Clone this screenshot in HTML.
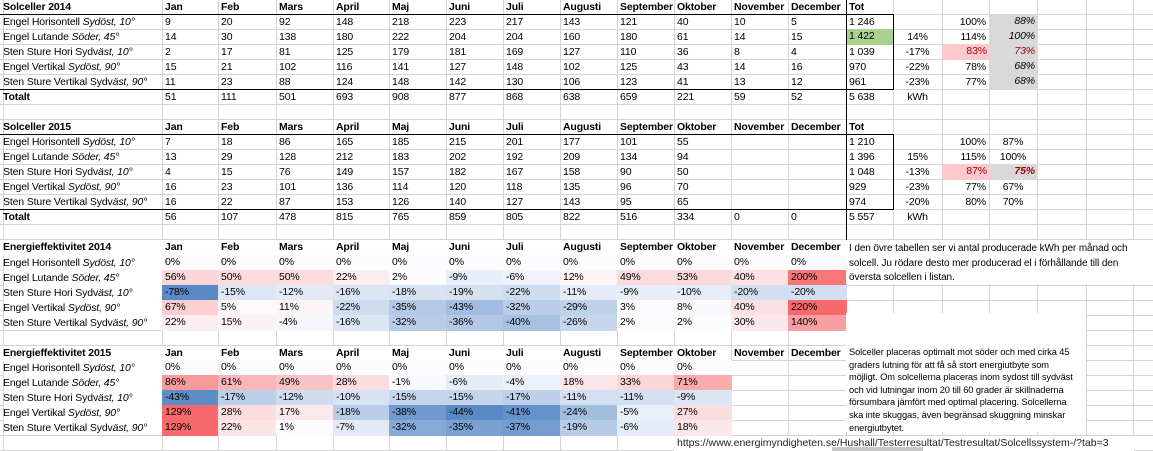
<!DOCTYPE html>
<html><head><meta charset="utf-8">
<style>
html,body{margin:0;padding:0;background:#fff;}
#sheet{position:relative;width:1153px;height:451px;overflow:hidden;background:#fff;font-family:"Liberation Sans",sans-serif;font-size:10.5px;letter-spacing:-0.15px;color:#000;}
.c{position:absolute;box-sizing:border-box;white-space:nowrap;overflow:visible;line-height:15px;padding:0 3px;}
.gl{position:absolute;background:#d4d4d4;}
.bl{position:absolute;background:#000;}
.r{text-align:right;}
.m{text-align:center;}
.b{font-weight:bold;}
.box{position:absolute;background:#fff;box-sizing:border-box;}
</style></head>
<body>
<div id="sheet"></div>
<script>
// ---- data ----
const months = ["Jan","Feb","Mars","April","Maj","Juni","Juli","Augusti","September","Oktober","November","December"];
const panels = [
 ['Engel Horisontell ','Sydöst, 10°',''],
 ['Engel Lutande ','Söder, 45°',''],
 ['Sten Sture Hori Sydv','äst,  10°',''],
 ['Engel Vertikal ','Sydöst, 90°',''],
 ['Sten Sture Vertikal Sydv','äst,  90°','']
];
const prod2014 = [
 [9,20,92,148,218,223,217,143,121,40,10,5],
 [14,30,138,180,222,204,204,160,180,61,14,15],
 [2,17,81,125,179,181,169,127,110,36,8,4],
 [15,21,102,116,141,127,148,102,125,43,14,16],
 [11,23,88,124,148,142,130,106,123,41,13,12]
];
const tot2014 = ["1 246","1 422","1 039","970","961"];
const diff2014 = ["","14%","-17%","-22%","-23%"];
const rel2014 = ["100%","114%","83%","78%","77%"];
const relB2014 = ["88%","100%","73%","68%","68%"];
const sum2014 = [51,111,501,693,908,877,868,638,659,221,59,52];
const sumTot2014 = "5 638";
const prod2015 = [
 [7,18,86,165,185,215,201,177,101,55,null,null],
 [13,29,128,212,183,202,192,209,134,94,null,null],
 [4,15,76,149,157,182,167,158,90,50,null,null],
 [16,23,101,136,114,120,118,135,96,70,null,null],
 [16,22,87,153,126,140,127,143,95,65,null,null]
];
const tot2015 = ["1 210","1 396","1 048","929","974"];
const diff2015 = ["","15%","-13%","-23%","-20%"];
const rel2015 = ["100%","115%","87%","77%","80%"];
const relB2015 = ["87%","100%","75%","67%","70%"];
const sum2015 = [56,107,478,815,765,859,805,822,516,334,0,0];
const sumTot2015 = "5 557";
const eff2014 = [
 [0,0,0,0,0,0,0,0,0,0,0,0],
 [56,50,50,22,2,-9,-6,12,49,53,40,200],
 [-78,-15,-12,-16,-18,-19,-22,-11,-9,-10,-20,-20],
 [67,5,11,-22,-35,-43,-32,-29,3,8,40,220],
 [22,15,-4,-16,-32,-36,-40,-26,2,2,30,140]
];
const eff2015 = [
 [0,0,0,0,0,0,0,0,0,0,null,null],
 [86,61,49,28,-1,-6,-4,18,33,71,null,null],
 [-43,-17,-12,-10,-15,-15,-17,-11,-11,-9,null,null],
 [129,28,17,-18,-38,-44,-41,-24,-5,27,null,null],
 [129,22,1,-7,-32,-35,-37,-19,-6,18,null,null]
];

// ---- layout ----
const colX = [0,162,218,276,333,389,446,503,560,617,674,731,788,846,893,942,989,1037,1086,1133,1153];
const RH = 15.03;
const Y = r => Math.round(r*RH);
const sheet = document.getElementById('sheet');

for (let i=1;i<colX.length-1;i++){
  const g=document.createElement('div');g.className='gl';
  
  
  g.style.left=colX[i]+'px';g.style.top='0px';g.style.width='1px';g.style.height='451px';sheet.appendChild(g);
}
{const g=document.createElement('div');g.className='gl';
 
 
 g.style.left='3px';g.style.top='0px';g.style.width='1px';g.style.height='451px';sheet.appendChild(g);}
for (let r=1;r<31;r++){
  const g=document.createElement('div');g.className='gl';
  
  
  g.style.left='0px';g.style.top=(Y(r)-1)+'px';g.style.width='1153px';g.style.height='1px';sheet.appendChild(g);
}

function cell(r,c0,c1,html,cls,bg,style,name){
  const d=document.createElement('div');
  d.className='c '+(cls||'');
  
  
  d.style.left=colX[c0]+'px';d.style.width=(colX[c1]-colX[c0]+(bg?1:0))+'px';
  d.style.top=(Y(r)-(bg?1:0))+'px';d.style.height=(Y(r+1)-Y(r)+(bg?1:0))+'px';
  if(bg)d.style.background=bg;
  if(style)d.style.cssText+=style;
  d.innerHTML=html;
  sheet.appendChild(d);return d;
}
function hline(x0,x1,y){const b=document.createElement('div');b.className='bl';
 
 
 b.style.left=x0+'px';b.style.width=(x1-x0)+'px';b.style.top=y+'px';b.style.height='1px';sheet.appendChild(b);}
function vline(x,y0,y1){const b=document.createElement('div');b.className='bl';
 
 
 b.style.left=x+'px';b.style.top=y0+'px';b.style.height=(y1-y0)+'px';b.style.width='1px';sheet.appendChild(b);}
function label(p){return p[0]+'<i>'+p[1]+'</i>';}

function prodTable(r0,title,prod,tot,diff,rel,relB,sum,sumTot,boldB){
  cell(r0,0,1,title,'b',null,null,'table-title');
  months.forEach((m,i)=>cell(r0,i+1,i+2,m,'b',null,null,'month-header'));
  cell(r0,13,14,'Tot','b',null,null,'total-header');
  prod.forEach((row,ri)=>{
    const r=r0+1+ri;
    cell(r,0,1,label(panels[ri]),'',null,null,'panel-label');
    row.forEach((v,i)=>{ if(v!==null) cell(r,i+1,i+2,String(v),'',null,null,'kwh-value'); });
    cell(r,13,14,tot[ri],'',(ri===1&&!boldB)?'#a9d08e':null,null,'total-value');
    cell(r,14,15,diff[ri],'m',null,null,'diff-value');
    if(ri===2) cell(r,15,16,rel[ri],'r','#ffc7ce','color:#9c0006;','relative-value');
    else cell(r,15,16,rel[ri],'r',null,null,'relative-value');
    const gray = !boldB || ri===2;
    let st = 'font-style:'+((!boldB||ri===2)?'italic':'normal')+';';
    if(ri===2) st+='color:#9c0006;'+(boldB?'font-weight:bold;':'');
    cell(r,16,17,relB[ri],boldB&&ri!==2?'m':'r',gray?'#d9d9d9':null,st,'relative-best-value');
  });
  const rs=r0+6;
  cell(rs,0,1,'Totalt','b',null,null,'sum-label');
  sum.forEach((v,i)=>cell(rs,i+1,i+2,String(v),'',null,null,'sum-value'));
  cell(rs,13,14,sumTot,'',null,null,'sum-total');
  cell(rs,14,15,'kWh','m',null,null,'unit-label');
  hline(0,893,Y(r0+1)-1);
  hline(0,893,Y(rs)-1);
  vline(846,Y(r0),Y(rs+2));
  vline(893,Y(r0+1)-1,Y(rs));
}
prodTable(0,'Solceller 2014',prod2014,tot2014,diff2014,rel2014,relB2014,sum2014,sumTot2014,false);
prodTable(8,'Solceller 2015',prod2015,tot2015,diff2015,rel2015,relB2015,sum2015,sumTot2015,true);

const RED=[248,105,107],WHITE=[252,252,255],BLUE=[90,138,198];
function mix(a,b,t){return 'rgb('+a.map((v,i)=>Math.round(v+(b[i]-v)*t)).join(',')+')';}
function effTable(r0,title,data){
  let mx=-1e9,mn=1e9;
  data.forEach(row=>row.forEach(v=>{if(v!==null){mx=Math.max(mx,v);mn=Math.min(mn,v);}}));
  const lastCol = data[0].filter(v=>v!==null).length;
  const w=document.createElement('div');w.className='box';
  
  
  w.style.left='4px';w.style.top=Y(r0)+'px';w.style.width=(colX[lastCol+1]-4)+'px';w.style.height=(Y(r0+6)-Y(r0)-1)+'px';
  sheet.appendChild(w);
  cell(r0,0,1,title,'b',null,'background:#fff;','table-title');
  months.forEach((m,i)=>cell(r0,i+1,i+2,m,'b',null,null,'month-header'));
  data.forEach((row,ri)=>{
    const r=r0+1+ri;
    cell(r,0,1,label(panels[ri]),'',null,null,'panel-label');
    row.forEach((v,i)=>{
      if(v===null) return;
      const bg = v>=0 ? mix(WHITE,RED,mx>0?v/mx:0) : mix(WHITE,BLUE,v/mn);
      cell(r,i+1,i+2,v+'%','',bg,null,'efficiency-cell');
    });
  });
}
effTable(16,'Energieffektivitet 2014',eff2014);
effTable(23,'Energieffektivitet 2015',eff2015);

const tb1=document.createElement('div');tb1.className='box';


tb1.style.cssText+='left:846px;top:240px;width:307px;height:44px;padding:2px 0 0 3px;font-size:10px;letter-spacing:-0.1px;line-height:14.5px;white-space:nowrap;color:#000;';
tb1.innerHTML='I den övre tabellen ser vi antal producerade kWh per månad och<br>solcell. Ju rödare desto mer producerad el i förhållande till den<br>översta solcellen i listan.';
sheet.appendChild(tb1);
const tb2=document.createElement('div');tb2.className='box';


tb2.style.cssText+='left:846px;top:313px;width:240px;height:119px;padding:33px 0 0 3px;font-size:9.3px;line-height:12.6px;letter-spacing:-0.1px;white-space:nowrap;color:#000;';
tb2.innerHTML='Solceller placeras optimalt mot söder och med cirka 45<br>graders lutning för att få så stort energiutbyte som<br>möjligt. Om solcellerna placeras inom sydost till sydväst<br>och vid lutningar inom 20 till 60 grader är skillnaderna<br>försumbara jämfört med optimal placering.  Solcellerna<br>ska inte skuggas, även begränsad skuggning minskar<br>energiutbytet.';
sheet.appendChild(tb2);
const url=document.createElement('div');url.className='c';


url.style.cssText+='left:674px;top:'+Y(29)+'px;width:460px;height:15px;background:#fff;font-size:10.5px;letter-spacing:0px;color:#222;padding-left:3px;';
url.textContent='https://www.energimyndigheten.se/Hushall/Testerresultat/Testresultat/Solcellssystem-/?tab=3';
sheet.appendChild(url);
const sb=document.createElement('div');sb.className='box';


sb.style.cssText+='left:832px;top:447px;width:91px;height:4px;background:#c8c8c8;';
sheet.appendChild(sb);
</script>
</body></html>
